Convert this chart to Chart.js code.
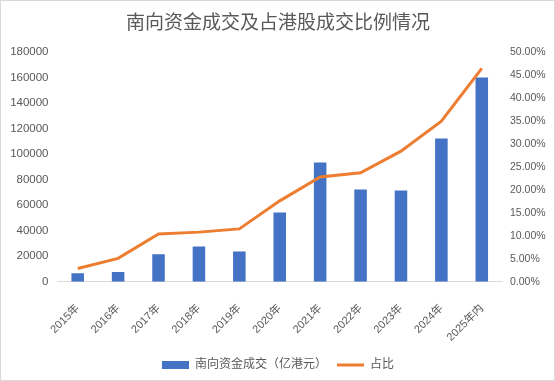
<!DOCTYPE html>
<html>
<head>
<meta charset="utf-8">
<script src="https://cdn.jsdelivr.net/npm/chart.js@4/dist/chart.umd.min.js"></script>
<style>
html,body{margin:0;padding:0;background:#fff;}
#wrap{width:555px;height:381px;}
</style>
</head>
<body>
<div id="wrap"><canvas id="c" width="555" height="381"></canvas></div>
<script>
const categories = ["2015年","2016年","2017年","2018年","2019年","2020年","2021年","2022年","2023年","2024年","2025年内"];
const turnover = [6600, 7600, 21500, 27700, 23800, 54300, 93400, 72300, 71500, 112200, 159800];
const ratio = [2.9, 5.1, 10.4, 10.8, 11.5, 17.6, 22.8, 23.7, 28.4, 34.9, 46.4];
const leftTicks = [0,20000,40000,60000,80000,100000,120000,140000,160000,180000];
const rightTicks = [0,5,10,15,20,25,30,35,40,45,50];

const FONT = '"Liberation Sans", "Noto Sans CJK SC", sans-serif';
const GREY = '#595959';

const borderPlugin = {
  id: 'bg',
  beforeDraw(chart){
    const ctx = chart.ctx;
    ctx.save();
    ctx.fillStyle = '#fff';
    ctx.fillRect(0,0,chart.width,chart.height);
    ctx.strokeStyle = '#D9D9D9';
    ctx.lineWidth = 1;
    ctx.strokeRect(0.5,0.5,chart.width-1,chart.height-1);
    ctx.restore();
  }
};

new Chart(document.getElementById('c'), {
  data: {
    labels: categories,
    datasets: [
      {
        type: 'line',
        label: '占比',
        data: ratio,
        yAxisID: 'y1',
        borderColor: '#ED7D31',
        backgroundColor: '#ED7D31',
        borderWidth: 3,
        pointRadius: 0,
        pointStyle: 'line',
        tension: 0,
        order: 0
      },
      {
        type: 'bar',
        label: '南向资金成交（亿港元）',
        data: turnover,
        yAxisID: 'y',
        backgroundColor: '#4472C4',
        borderWidth: 0,
        barPercentage: 0.31,
        categoryPercentage: 1,
        pointStyle: 'rect',
        order: 1
      }
    ]
  },
  options: {
    responsive: false,
    animation: false,
    devicePixelRatio: 1,
    layout: { padding: { left: 10, right: 9, top: 8, bottom: 0 } },
    plugins: {
      title: {
        display: true,
        text: '南向资金成交及占港股成交比例情况',
        color: GREY,
        font: { family: FONT, size: 19, weight: 'normal' },
        padding: { top: 4, bottom: 17 }
      },
      legend: {
        position: 'bottom',
        reverse: true,
        labels: {
          color: GREY,
          font: { family: FONT, size: 12 },
          usePointStyle: true,
          pointStyleWidth: 27,
          boxHeight: 8,
          padding: 10
        }
      },
      tooltip: { enabled: false }
    },
    scales: {
      x: {
        grid: { display: false },
        border: { display: true, color: '#D9D9D9', width: 1 },
        afterFit(axis){ axis.height -= 7; axis.paddingLeft = 0; axis.paddingRight = 0; },
        ticks: {
          color: GREY,
          font: { family: FONT, size: 11 },
          minRotation: 45,
          maxRotation: 45,
          padding: 12
        }
      },
      y: {
        position: 'left',
        min: 0,
        max: leftTicks[leftTicks.length-1],
        afterBuildTicks(axis){ axis.ticks = leftTicks.map(v => ({value: v})); },
        afterFit(axis){ axis.width = 47.5; },
        grid: { display: false, drawTicks: false },
        border: { display: false },
        ticks: {
          color: GREY,
          font: { family: FONT, size: 11.5 },
          padding: 9,
          callback: v => String(v)
        }
      },
      y1: {
        position: 'right',
        min: 0,
        max: rightTicks[rightTicks.length-1],
        afterBuildTicks(axis){ axis.ticks = rightTicks.map(v => ({value: v})); },
        afterFit(axis){ axis.width = 44; },
        grid: { display: false, drawTicks: false },
        border: { display: false },
        ticks: {
          color: GREY,
          font: { family: FONT, size: 10.5 },
          padding: 8,
          callback: v => Number(v).toFixed(2) + '%'
        }
      }
    }
  },
  plugins: [borderPlugin]
});
</script>
</body>
</html>
